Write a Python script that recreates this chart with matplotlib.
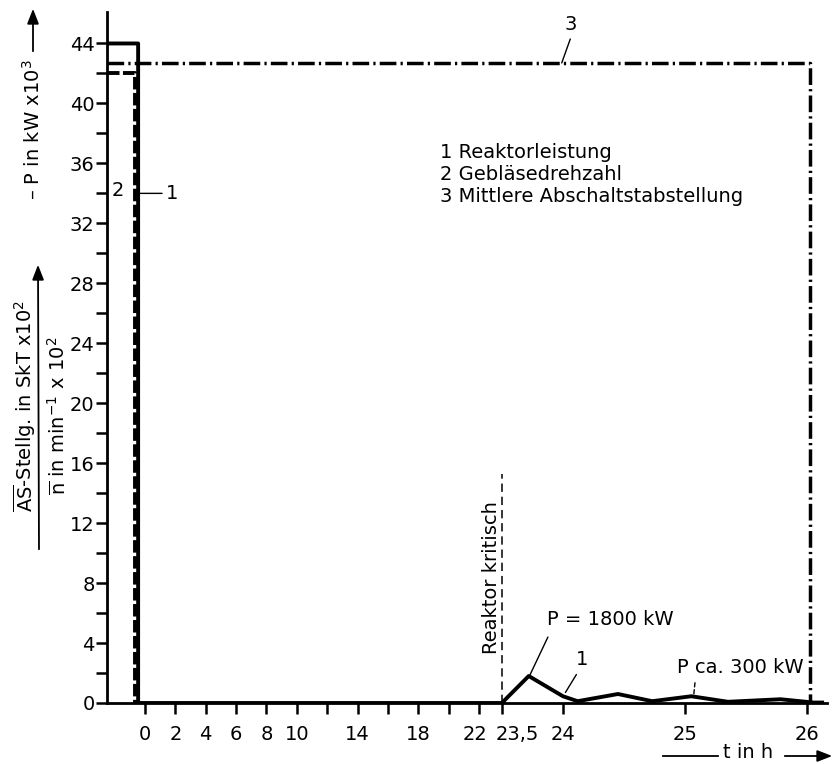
import matplotlib

matplotlib.use("Agg")
import matplotlib.pyplot as plt
import matplotlib.transforms as mtransforms
import numpy as np

plt.rcParams["font.family"] = ["DejaVu Sans"]
plt.rcParams["lines.scale_dashes"] = False

# time axis is stretched after the reactor goes critical (23.5 h)
T_BREAK = 23.5
STRETCH = 8.05

# 1 Reaktorleistung, P in kW x 10^3
t_power = [-2.5, -0.45, -0.45, 23.5, 23.72, 24.0, 24.12, 24.45, 24.73, 25.05, 25.35, 25.78, 26.05, 26.12]
p_power = [44.0, 44.0, 0.0, 0.0, 1.8, 0.45, 0.12, 0.6, 0.12, 0.45, 0.08, 0.25, 0.03, 0.03]

# 2 Gebläsedrehzahl, n in min^-1 x 10^2
t_fan = [-2.5, -0.65, -0.65]
n_fan = [42.0, 42.0, 0.0]

# 3 Mittlere Abschaltstabstellung, SkT x 10^2
t_rods = [-2.5, 26.02, 26.02]
s_rods = [42.7, 42.7, 0.0]

# marker: Reaktor kritisch
t_crit = [23.5, 23.5]
y_crit = [0.0, 15.3]

y_major = np.arange(0, 45, 4)
y_minor = np.arange(2, 46, 4)
x_labeled = [0, 2, 4, 6, 8, 10, 14, 18, 22, 23.5, 24, 25, 26]
x_labels = ["0", "2", "4", "6", "8", "10", "14", "18", "22", "23,5", "24", "25", "26"]
x_unlabeled = [12, 16, 20]

legend_lines = ["1 Reaktorleistung", "2 Gebläsedrehzahl", "3 Mittlere Abschaltstabstellung"]

FS = 14


def fwd(t):
    t = np.asarray(t, dtype=float)
    return np.where(t <= T_BREAK, t, T_BREAK + (t - T_BREAK) * STRETCH)


def inv(u):
    u = np.asarray(u, dtype=float)
    return np.where(u <= T_BREAK, u, T_BREAK + (u - T_BREAK) / STRETCH)


W, H = 836, 764


def fx(px):
    return px / W


def fy(py):
    return 1 - py / H


def leader(ax, start, end, **kw):
    ax.annotate("", xy=end, xytext=start,
                arrowprops=dict(arrowstyle="-", lw=1.0, shrinkA=0, shrinkB=0, **kw))


fig = plt.figure(figsize=(W / 100, H / 100), dpi=100)
ax = fig.add_axes([fx(107), fy(703), (827 - 107) / W, (703 - 12) / H])
ax.set_xscale("function", functions=(fwd, inv))
ax.set_xlim(-2.5, 26.16)
ax.set_ylim(0, 46.1)

ax.plot(t_power, p_power, color="black", lw=2.8, solid_joinstyle="round", zorder=4)
ax.plot(t_fan, n_fan, color="black", lw=2.8, linestyle=(0, (9, 2.5)), zorder=3)
ax.plot(t_rods, s_rods, color="black", lw=2.5, linestyle=(0, (12, 3, 1.6, 3)), zorder=3)
ax.plot(t_crit, y_crit, color="black", lw=1.1, linestyle=(0, (6, 3.5)), zorder=2)

for side in ("top", "right"):
    ax.spines[side].set_visible(False)
for side in ("left", "bottom"):
    ax.spines[side].set_linewidth(2)

ax.set_yticks(y_major)
ax.set_yticks(y_minor, minor=True)
ax.set_xticks(x_labeled)
ax.set_xticklabels(x_labels)
ax.set_xticks(x_unlabeled, minor=True)
ax.tick_params(axis="both", which="both", direction="out", length=8, width=1.8, labelsize=FS)
ax.tick_params(axis="x", which="major", pad=8)
ax.tick_params(axis="y", which="major", pad=1)

# "22" and "23,5" sit tightly together in the original
for lab in ax.get_xticklabels():
    if lab.get_text() == "23,5":
        lab.set_horizontalalignment("left")
        lab.set_transform(lab.get_transform() + mtransforms.ScaledTranslation(-0.06, 0, fig.dpi_scale_trans))
    elif lab.get_text() == "22":
        lab.set_transform(lab.get_transform() + mtransforms.ScaledTranslation(-0.04, 0, fig.dpi_scale_trans))

# legend block
for i, line in enumerate(legend_lines):
    fig.text(fx(440), fy(153 + 22 * i), line, fontsize=FS, va="center", ha="left")

# curve labels
ax.text(24.06, 45.25, "3", fontsize=FS, ha="center", va="center")
leader(ax, (24.06, 44.3), (23.99, 42.7))

fig.text(fx(118), fy(190), "2", fontsize=FS, ha="center", va="center")
ax.annotate("1", xy=(-0.45, 34.0), xytext=(1.4, 34.0), fontsize=FS, ha="left", va="center",
            arrowprops=dict(arrowstyle="-", lw=1.0, shrinkA=1, shrinkB=0))

ax.text(23.87, 5.55, "P = 1800 kW", fontsize=FS, ha="left", va="center")
leader(ax, (23.877, 4.4), (23.73, 1.87))

ax.text(24.16, 2.9, "1", fontsize=FS, ha="center", va="center")
leader(ax, (24.11, 1.9), (24.02, 0.7))

ax.text(25.45, 2.4, "P ca. 300 kW", fontsize=FS, ha="center", va="center")
leader(ax, (25.08, 1.35), (25.07, 0.55), linestyle=(0, (3, 2)))

ax.text(23.43, 8.4, "Reaktor kritisch", rotation=90, fontsize=FS, ha="right", va="center")

# y axis captions with arrows
fig.text(fx(33), fy(130), "– P in kW x10$^3$", rotation=90, fontsize=FS, ha="center", va="center")
fig.add_artist(matplotlib.patches.FancyArrowPatch(
    (fx(33), fy(54)), (fx(33), fy(6)), transform=fig.transFigure,
    arrowstyle="-|>,head_length=9,head_width=3.5", lw=1.3, color="black", mutation_scale=1))
fig.text(fx(25), fy(406), r"$\overline{\rm AS}$-Stellg. in SkT x10$^2$", rotation=90, fontsize=FS,
         ha="center", va="center")
fig.text(fx(58), fy(416), r"$\overline{\rm n}$ in min$^{-1}$ x 10$^2$", rotation=90, fontsize=FS,
         ha="center", va="center")
fig.add_artist(matplotlib.patches.FancyArrowPatch(
    (fx(39), fy(552)), (fx(38), fy(262)), transform=fig.transFigure,
    arrowstyle="-|>,head_length=9,head_width=3.5", lw=1.3, color="black", mutation_scale=1))

# time axis caption
fig.text(fx(748), fy(752), "t in h", fontsize=FS, ha="center", va="center")
fig.add_artist(matplotlib.lines.Line2D([fx(663), fx(718)], [fy(756), fy(756)], lw=1.3, color="black"))
fig.add_artist(matplotlib.patches.FancyArrowPatch(
    (fx(782), fy(756)), (fx(835), fy(756)), transform=fig.transFigure,
    arrowstyle="-|>,head_length=9,head_width=3.5", lw=1.3, color="black", mutation_scale=1))

fig.savefig("out.png", dpi=100)
